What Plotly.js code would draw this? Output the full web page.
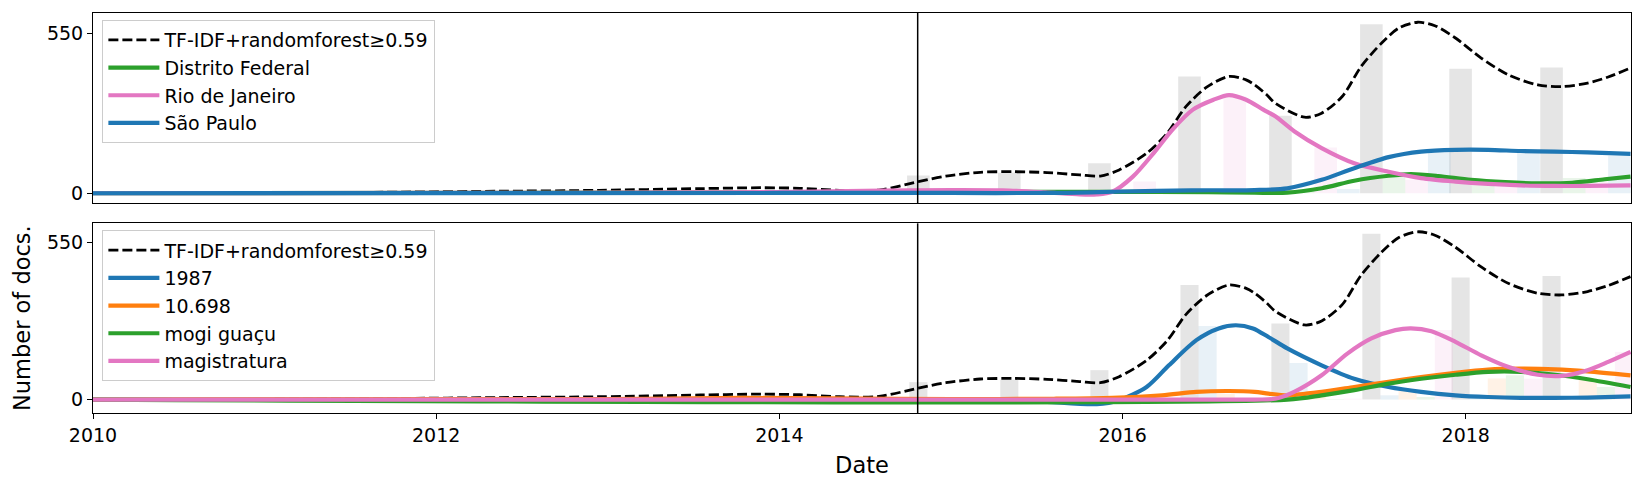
<!DOCTYPE html>
<html>
<head>
<meta charset="utf-8">
<script src="https://cdn.plot.ly/plotly-3.0.1.min.js"></script>
<style>html,body{margin:0;padding:0;background:#fff;}#chart{width:1645px;height:489px;}</style>
</head>
<body>
<div id="chart"></div>
<script>
// ---------- data (x in decimal years) ----------
const cutoffYear = 2014.806;
const binCenters = [2014.81, 2015.34, 2015.865, 2016.39, 2016.92, 2017.45, 2017.97, 2018.50];
const totalBars  = [61, 70, 103, 401, 266, 580, 427, 432];

// top panel bars
const topGreenBars = [2, 3, 4, 6, 6, 69, 28, 52];
const topPinkBars  = [6, 8, 40, 332, 157, 46, 22, 40];
const topBlueBars  = [1, 2, 4, 10, 15, 140, 143, 129];
// bottom panel bars
const botBlueBars   = [1, 1, 0, 257, 128, 15, 5, 5];
const botOrangeBars = [3, 2, 3, 20, 10, 32, 74, 74];
const botGreenBars  = [0, 0, 0, 0, 2, 9, 85, 44];
const botPinkBars   = [0, 0, 0, 1, 3, 243, 73, 167];

// smoothed total curve (TF-IDF+randomforest>=0.59)
const totalX = [2010.00, 2011.00, 2011.79, 2012.37, 2012.95, 2013.54, 2013.89, 2014.12, 2014.35, 2014.58, 2014.81, 2014.97, 2015.17, 2015.36, 2015.56, 2015.75, 2015.87, 2015.98, 2016.14, 2016.26, 2016.37, 2016.49, 2016.62, 2016.72, 2016.77, 2016.84, 2016.89, 2017.06, 2017.16, 2017.28, 2017.39, 2017.51, 2017.61, 2017.72, 2017.82, 2017.94, 2018.09, 2018.25, 2018.42, 2018.56, 2018.71, 2018.83, 2018.96];
const totalY = [0, 1, 4, 7, 10, 16, 19, 17, 10, 11, 40, 59, 72, 74, 71, 63, 59, 80, 137, 206, 298, 364, 401, 389, 372, 338, 309, 261, 275, 332, 435, 516, 567, 587, 575, 533, 464, 406, 372, 366, 378, 399, 430];

// top panel curves
const dfX = [2010.0, 2012.0, 2014.0, 2015.0, 2016.0, 2016.5, 2016.77, 2016.96, 2017.16, 2017.35, 2017.55, 2017.68, 2017.84, 2018.03, 2018.23, 2018.42, 2018.62, 2018.81, 2018.96];
const dfY = [0, 1, 3, 4, 5, 4, 2, 2, 17, 43, 60, 66, 59, 46, 38, 34, 36, 48, 57];
const rjX = [2010.0, 2012.0, 2013.5, 2014.0, 2014.6, 2015.0, 2015.3, 2015.55, 2015.75, 2015.85, 2015.94, 2016.06, 2016.18, 2016.29, 2016.41, 2016.53, 2016.62, 2016.72, 2016.82, 2016.89, 2017.00, 2017.16, 2017.35, 2017.55, 2017.74, 2017.94, 2018.13, 2018.32, 2018.52, 2018.71, 2018.96];
const rjY = [0, 1, 3, 4, 9, 11, 10, 3, -4, -4, 5, 57, 137, 218, 287, 321, 337, 321, 287, 264, 213, 155, 103, 74, 52, 40, 32, 27, 25, 25, 27];
const spX = [2010.0, 2014.0, 2015.0, 2015.6, 2016.0, 2016.4, 2016.77, 2016.96, 2017.16, 2017.35, 2017.55, 2017.74, 2017.94, 2018.13, 2018.32, 2018.52, 2018.71, 2018.96];
const spY = [0, 1, 1, 1, 6, 10, 11, 17, 46, 86, 124, 143, 149, 149, 145, 143, 140, 135];

// bottom panel curves
const t1987X = [2010.0, 2014.0, 2015.0, 2015.3, 2015.56, 2015.85, 2015.98, 2016.14, 2016.27, 2016.43, 2016.56, 2016.66, 2016.76, 2016.85, 2016.96, 2017.16, 2017.35, 2017.55, 2017.74, 2017.94, 2018.13, 2018.32, 2018.52, 2018.71, 2018.96];
const t1987Y = [0, 1, 1, 0, -8, -16, -2, 44, 120, 208, 249, 260, 249, 219, 179, 120, 73, 44, 27, 15, 9, 6, 6, 7, 11];
const t10698X = [2010.0, 2013.0, 2013.8, 2014.3, 2015.0, 2015.6, 2015.94, 2016.23, 2016.43, 2016.62, 2016.77, 2016.85, 2016.96, 2017.16, 2017.35, 2017.55, 2017.74, 2017.94, 2018.13, 2018.32, 2018.52, 2018.71, 2018.96];
const t10698Y = [0, 2, 6, 4, 2, 3, 6, 15, 27, 30, 27, 21, 15, 27, 44, 62, 79, 94, 105, 108, 106, 99, 85];
const mogiX = [2010.0, 2016.96, 2017.16, 2017.35, 2017.55, 2017.74, 2017.94, 2018.13, 2018.32, 2018.52, 2018.71, 2018.96];
const mogiY = [0, 0, 15, 33, 56, 73, 87, 97, 97, 87, 71, 44];
const magX = [2010.0, 2016.77, 2016.89, 2017.00, 2017.16, 2017.31, 2017.45, 2017.59, 2017.68, 2017.80, 2017.94, 2018.09, 2018.25, 2018.42, 2018.56, 2018.71, 2018.83, 2018.96];
const magY = [0, 0, 3, 27, 85, 161, 214, 243, 249, 239, 202, 155, 114, 87, 83, 103, 132, 167];

const topLabels = ['Distrito Federal', 'Rio de Janeiro', 'São Paulo'];
const botLabels = ['1987', '10.698', 'mogi guaçu', 'magistratura'];
const totalLabel = 'TF-IDF+randomforest≥0.59';
const xTicks = [2010, 2012, 2014, 2016, 2018];
const yTicks = [0, 550];

// ---------- styling ----------
const C = {blue:'#1f77b4', orange:'#ff7f0e', green:'#2ca02c', pink:'#e377c2'};
const A = {blue:'rgba(31,119,180,0.1)', orange:'rgba(255,127,14,0.1)', green:'rgba(44,160,44,0.1)', pink:'rgba(227,119,194,0.1)', gray:'rgba(0,0,0,0.1)'};
const binW = 0.5275;
const FONT = 'DejaVu Sans, sans-serif';

function bars(xa, ya, vals, color, idx, n) {
  const w = binW / n;
  return {type:'bar', x: binCenters, y: vals, xaxis: xa, yaxis: ya, width: w, offset: -w/2 + idx*w,
          marker:{color: color, line:{width:0}}, showlegend:false, hoverinfo:'skip'};
}
function line(xa, ya, x, y, color, name, legend, dash) {
  return {type:'scatter', mode:'lines', x:x, y:y, xaxis:xa, yaxis:ya, name:name, legend:legend,
          line:{color:color, width: dash ? 2.8 : 4.2, dash: dash ? '10px,4px' : 'solid', shape:'spline', smoothing:0.8}};
}

const traces = [
  // top panel (x2 / y2)
  bars('x2','y2', totalBars, A.gray, 0, 4),
  bars('x2','y2', topGreenBars, A.green, 1, 4),
  bars('x2','y2', topPinkBars, A.pink, 2, 4),
  bars('x2','y2', topBlueBars, A.blue, 3, 4),
  line('x2','y2', totalX, totalY, '#000', totalLabel, 'legend', true),
  line('x2','y2', dfX, dfY, C.green, topLabels[0], 'legend'),
  line('x2','y2', rjX, rjY, C.pink, topLabels[1], 'legend'),
  line('x2','y2', spX, spY, C.blue, topLabels[2], 'legend'),
  // bottom panel (x / y)
  bars('x','y', totalBars, A.gray, 0, 5),
  bars('x','y', botBlueBars, A.blue, 1, 5),
  bars('x','y', botOrangeBars, A.orange, 2, 5),
  bars('x','y', botGreenBars, A.green, 3, 5),
  bars('x','y', botPinkBars, A.pink, 4, 5),
  line('x','y', totalX, totalY, '#000', totalLabel, 'legend2', true),
  line('x','y', t1987X, t1987Y, C.blue, botLabels[0], 'legend2'),
  line('x','y', t10698X, t10698Y, C.orange, botLabels[1], 'legend2'),
  line('x','y', mogiX, mogiY, C.green, botLabels[2], 'legend2'),
  line('x','y', magX, magY, C.pink, botLabels[3], 'legend2')
];

const axisCommon = {showline:true, mirror:true, linecolor:'#000', linewidth:1, showgrid:false, zeroline:false,
                    tickfont:{family:FONT, size:19, color:'#000'}, tickcolor:'#000'};
const legendCommon = {xanchor:'left', yanchor:'top', bgcolor:'rgba(255,255,255,0.8)', bordercolor:'#cccccc', borderwidth:1,
                      font:{family:FONT, size:19, color:'#000'}, traceorder:'normal', itemwidth:51};

const layout = {
  width:1645, height:489,
  margin:{l:93.3, r:14, t:13.3, b:76.3},
  paper_bgcolor:'#fff', plot_bgcolor:'#fff',
  barmode:'overlay', showlegend:true,
  font:{family:FONT, color:'#000'},
  xaxis: Object.assign({}, axisCommon, {anchor:'y', domain:[0,1], range:[2010, 2018.963], tickmode:'array', tickvals:xTicks,
          ticktext: xTicks.map(String), ticks:'outside', ticklen:5, tickwidth:1,
          title:{text:'Date', font:{family:FONT, size:22.5, color:'#000'}, standoff:12}}),
  yaxis: Object.assign({}, axisCommon, {anchor:'x', domain:[0,0.4742], range:[-46.9, 616.6], tickmode:'array', tickvals:yTicks,
          ticks:'outside', ticklen:5, tickwidth:1,
          title:{text:'Number of docs.', font:{family:FONT, size:22.5, color:'#000'}, standoff:10}}),
  xaxis2: Object.assign({}, axisCommon, {anchor:'y2', domain:[0,1], matches:'x', range:[2010, 2018.963], showticklabels:false, ticks:''}),
  yaxis2: Object.assign({}, axisCommon, {anchor:'x2', domain:[0.5243,1], range:[-34.4, 618.7], tickmode:'array', tickvals:yTicks,
          ticks:'outside', ticklen:5, tickwidth:1}),
  legend: Object.assign({}, legendCommon, {x:0.0061, y:0.9825}),
  legend2: Object.assign({}, legendCommon, {x:0.0061, y:0.4567}),
  shapes:[
    {type:'line', xref:'x2', yref:'y2 domain', x0:cutoffYear, x1:cutoffYear, y0:0, y1:1, line:{color:'#000', width:1.5}},
    {type:'line', xref:'x', yref:'y domain', x0:cutoffYear, x1:cutoffYear, y0:0, y1:1, line:{color:'#000', width:1.5}}
  ]
};

Plotly.newPlot('chart', traces, layout, {staticPlot:true, displayModeBar:false});
</script>
</body>
</html>
